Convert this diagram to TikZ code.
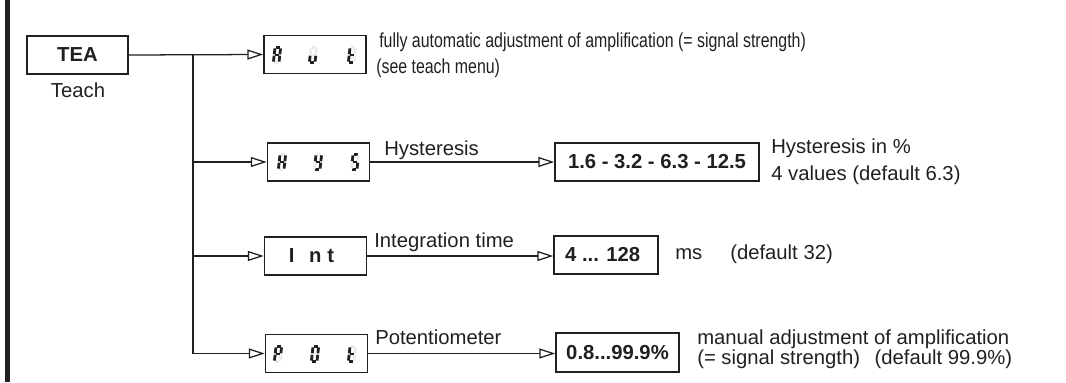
\documentclass[tikz,border=0pt]{standalone}
\usepackage{fontspec}
\setmainfont{Liberation Sans}
\newfontfamily\narrowsans[FakeStretch=0.785]{Liberation Sans}
\usetikzlibrary{arrows.meta}
\definecolor{ink}{RGB}{35,31,32}
\tikzset{
  txt/.style={inner sep=0pt, anchor=base west, text=ink, font=\fontsize{15.2}{18}\selectfont},
  narrowtxt/.style={txt, font=\narrowsans\fontsize{15.2}{18}\selectfont},
  menubox/.style={draw=ink, line width=1.1pt, inner sep=0pt, minimum width=76.5pt, minimum height=28.5pt,
    text=ink, font=\fontsize{15.2}{18}\selectfont\bfseries},
  conn/.style={draw=ink, line width=0.95pt},
  feed/.style={conn, -{Triangle[open, length=12pt, width=7.5pt, line width=0.95pt]}},
  seg1/.style={line width=2.1pt, draw=ink},
  seg0/.style={line width=2.1pt, draw=black!8},
}
% seven-segment character: centre x, centre y, segments a b c d e f g (1 = lit)
\newcommand\segdigit[9]{%
  \begin{scope}[shift={(#1,#2)}, xslant=0.11]
    \draw[seg#3] (-1.8,-7.4) -- (1.8,-7.4);
    \draw[seg#4] (2.8,-6.6) -- (2.8,-0.7);
    \draw[seg#5] (2.8,0.7) -- (2.8,6.6);
    \draw[seg#6] (-1.8,7.4) -- (1.8,7.4);
    \draw[seg#7] (-2.8,0.7) -- (-2.8,6.6);
    \draw[seg#8] (-2.8,-6.6) -- (-2.8,-0.7);
    \draw[seg#9] (-1.8,0) -- (1.8,0);
  \end{scope}}
\begin{document}
\begin{tikzpicture}[x=0.75pt, y=-0.75pt]
\useasboundingbox (0,0) rectangle (1066,382);
% margin rule
\fill[ink] (5,0) rectangle (10,382);

% menu entry
\node[menubox, minimum width=75.75pt] (tea) at (77.5,55) {TEA};
\node[txt, anchor=base] (teach) at (78,97) {Teach};

% sub-menu displays
\node[menubox] (aut) at (315,54.5) {};
\node[menubox] (hys) at (318.5,162) {};
\node[menubox] (int) at (315.5,256) {\hspace{-6pt}I\hspace{11pt}n\hspace{4.5pt}t};
\node[menubox] (pot) at (316.5,353.5) {};

% seven-segment read-outs
\segdigit{277}{55}{1}{1}{1}{0}{1}{1}{1}
\segdigit{313}{55}{0}{0}{1}{1}{1}{0}{0}
\segdigit{352}{55}{0}{0}{0}{1}{1}{1}{1}
\segdigit{282}{162}{0}{1}{1}{0}{1}{1}{1}
\segdigit{318}{162}{0}{1}{1}{1}{0}{1}{1}
\segdigit{355}{162}{1}{0}{1}{1}{0}{1}{1}
\segdigit{278}{354}{1}{1}{0}{0}{1}{1}{1}
\segdigit{315}{354}{1}{1}{1}{1}{1}{1}{0}
\segdigit{352}{354}{0}{0}{0}{1}{1}{1}{1}

% value ranges
\node[menubox, minimum width=153pt] (hysval) at (657,162) {1.6 - 3.2 - 6.3 - 12.5};
\node[menubox, minimum width=78pt] (intval) at (606,255) {\hspace{-5pt}4 ... 128};
\node[menubox, minimum width=92.25pt, minimum height=29.25pt] (potval) at (617.5,352.5) {0.8...99.9\%};

% branching
\coordinate (trunk) at (193,55);
\coordinate (trunkend) at (193,353.5);
\draw[feed] (tea.east) -- (aut.west);
\draw[conn] (trunk) -- (trunkend);
\draw[feed] (trunk |- hys.west) -- (hys.west);
\draw[feed] (trunk |- int.west) -- (int.west);
\draw[feed] (trunkend) -- (pot.west);
\draw[feed] (hys.east) -- (hysval.west |- hys.east);
\draw[feed] (int.east) -- (intval.west |- int.east);
\draw[feed] (pot.east) -- (potval.west |- pot.east);

% descriptions
\node[narrowtxt] (autdesc1) at (379,47) {fully automatic adjustment of amplification (= signal strength)};
\node[narrowtxt] (autdesc2) at (376,73) {(see teach menu)};
\node[txt] (hyslbl) at (384,155) {Hysteresis};
\node[txt] (hysdesc1) at (771,153) {Hysteresis in \%};
\node[txt] (hysdesc2) at (771,180) {4 values (default 6.3)};
\node[txt] (intlbl) at (374,247) {Integration time};
\node[txt] (intdesc) at (675,259) {ms\hspace{21pt}(default 32)};
\node[txt] (potlbl) at (375,344) {Potentiometer};
\node[txt] (potdesc1) at (697,344) {manual adjustment of amplification};
\node[txt] (potdesc2) at (697,364) {(= signal strength)\hspace{11pt}(default 99.9\%)};
\end{tikzpicture}
\end{document}
